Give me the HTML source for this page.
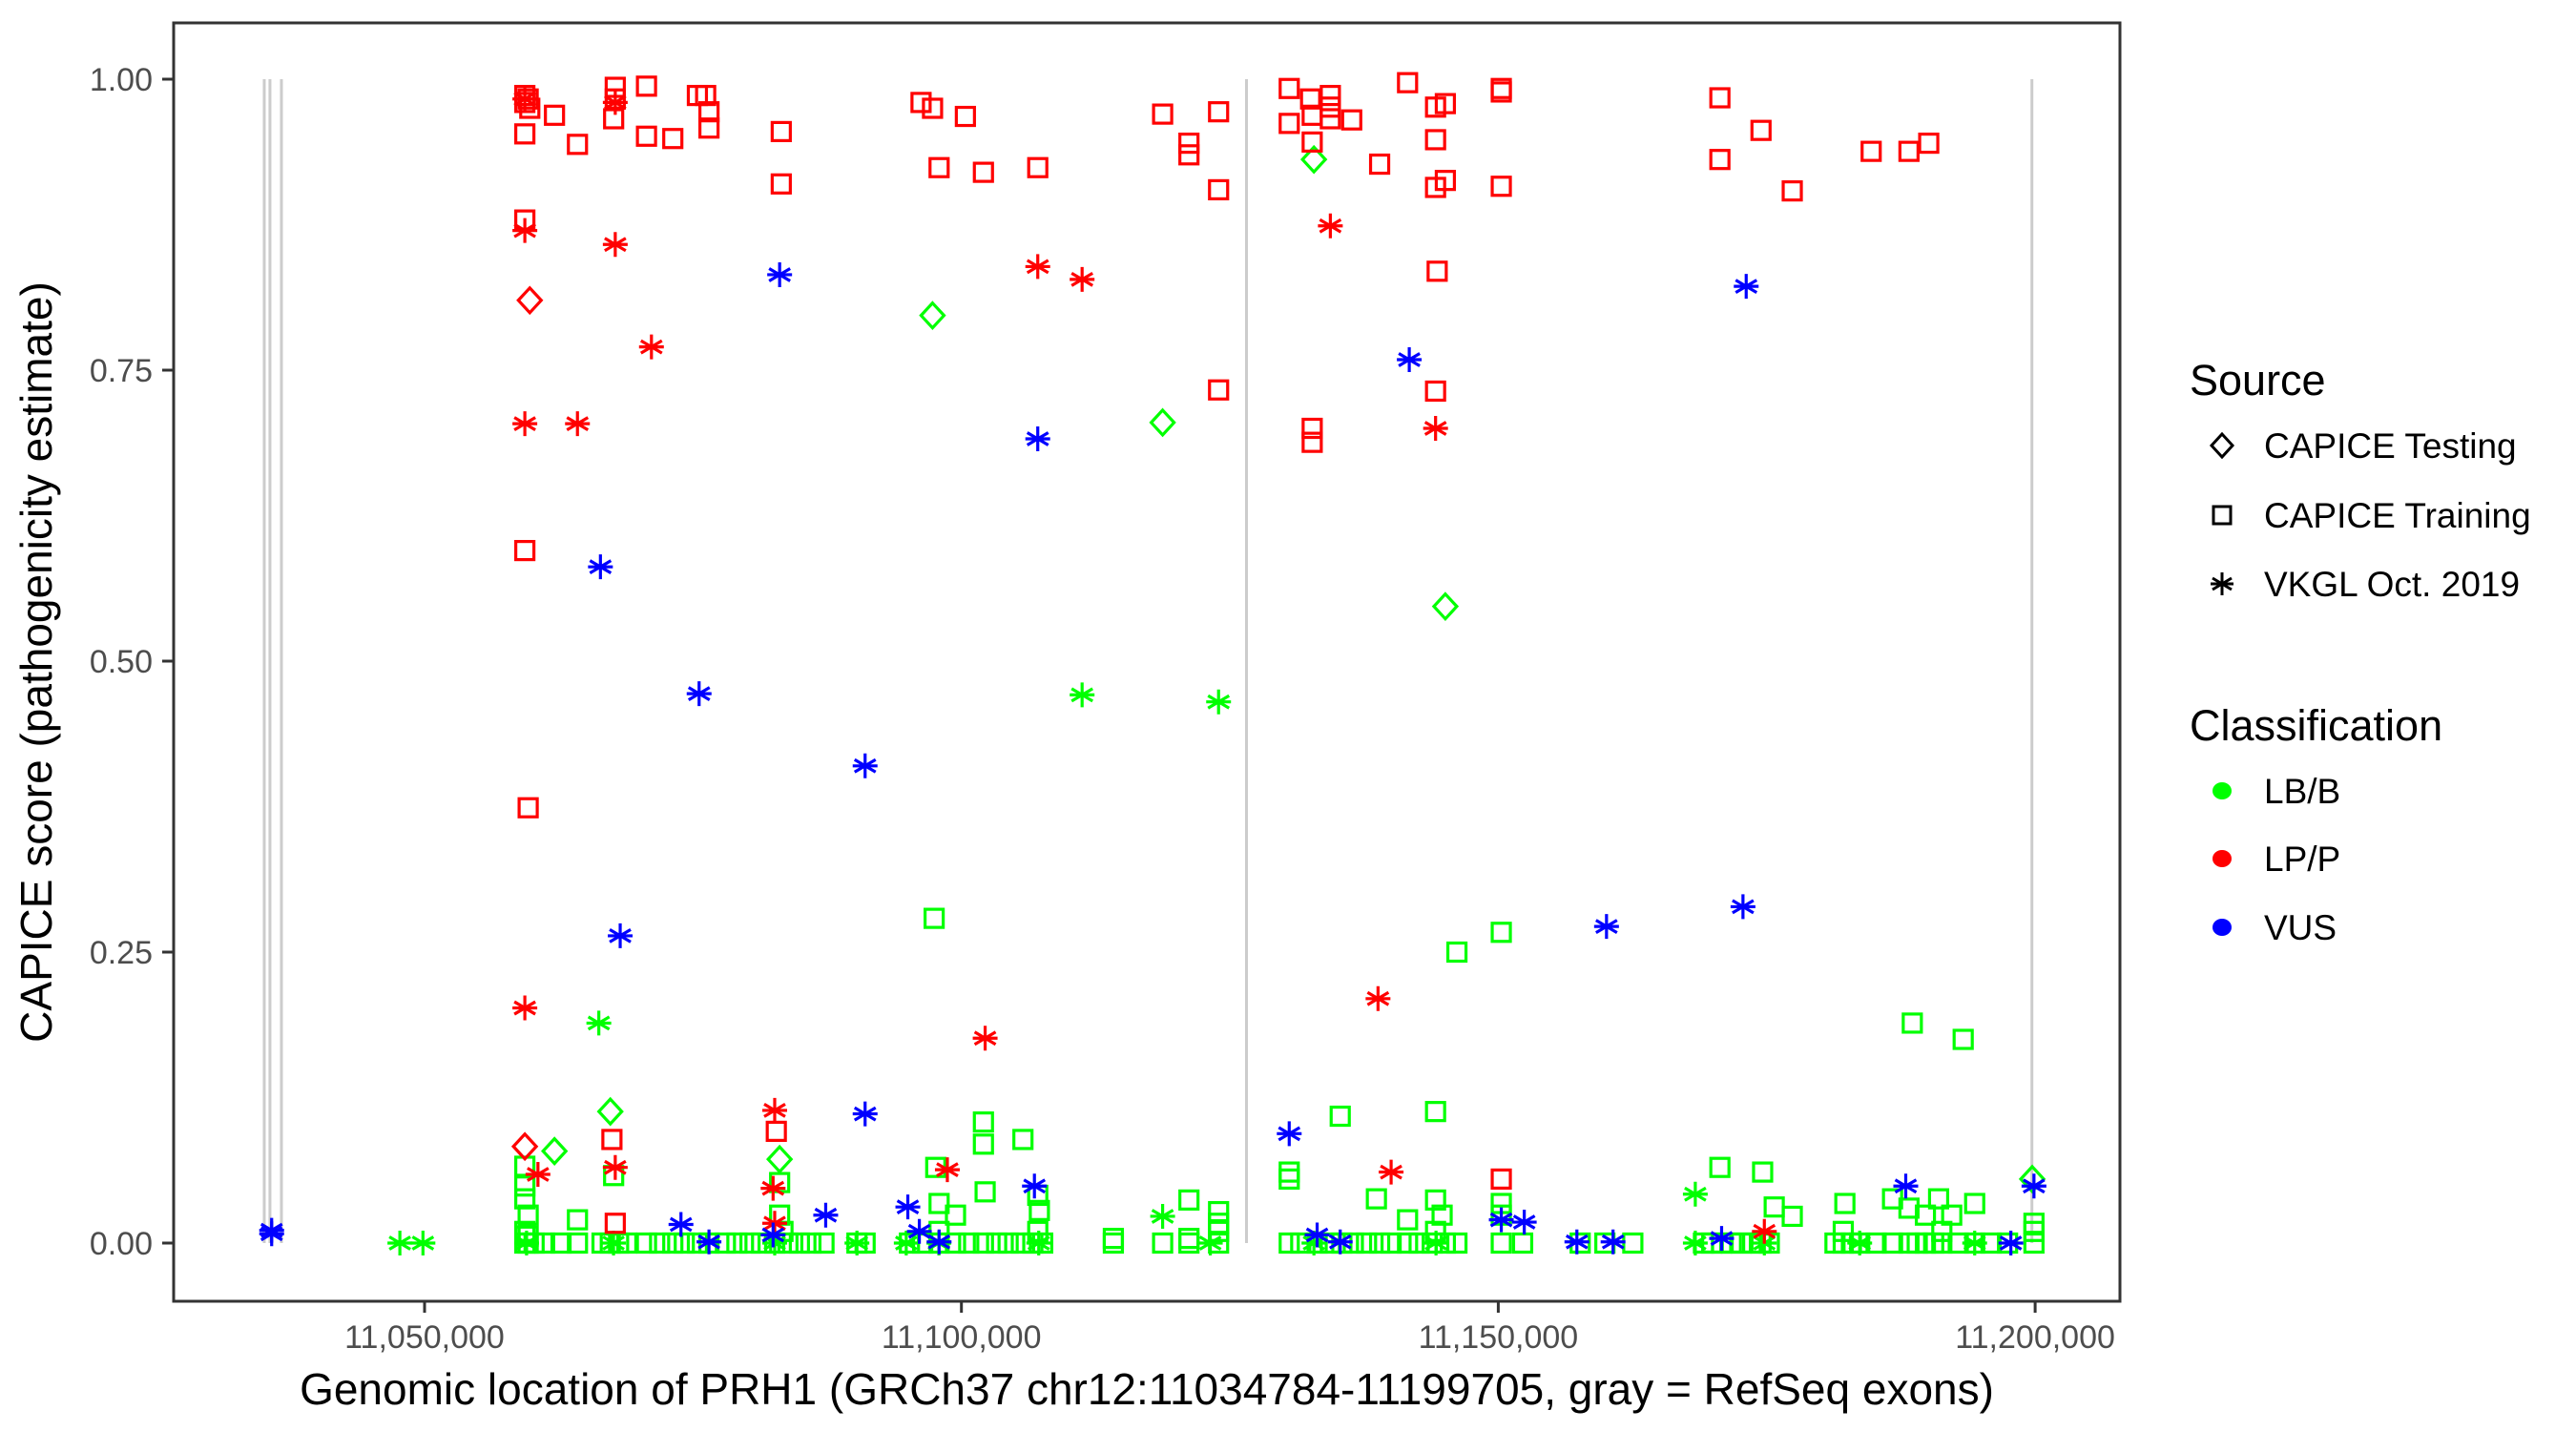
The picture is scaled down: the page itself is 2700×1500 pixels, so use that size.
<!DOCTYPE html>
<html><head><meta charset="utf-8"><style>
html,body{margin:0;padding:0;background:#fff;}
svg{display:block;font-family:"Liberation Sans",Arial,sans-serif;}
</style></head><body>
<svg id="chart" width="2700" height="1500" viewBox="0 0 2700 1500">
<rect x="0" y="0" width="2700" height="1500" fill="#fff"/>
<g id="exons"></g>
<g id="points"></g>
<rect x="182" y="24" width="2040" height="1340" fill="none" stroke="#333" stroke-width="3"/>
<g id="axes"></g>
<text x="1202" y="1472" font-size="46" text-anchor="middle" fill="#000">Genomic location of PRH1 (GRCh37 chr12:11034784-11199705, gray = RefSeq exons)</text>
<text transform="translate(54,694) rotate(-90)" font-size="46" text-anchor="middle" fill="#000">CAPICE score (pathogenicity estimate)</text>
<g id="legend">
 <text x="2295" y="414" font-size="45" fill="#000">Source</text>
 <g>
  <path d="M2329,455 L2340,467 L2329,479 L2318,467 Z" fill="none" stroke="#000" stroke-width="3"/>
  <text x="2373" y="480" font-size="37" fill="#000">CAPICE Testing</text></g>
 <g>
  <rect x="2320" y="531" width="18" height="18" fill="none" stroke="#000" stroke-width="3"/>
  <text x="2373" y="553" font-size="37" fill="#000">CAPICE Training</text></g>
 <g>
  <path d="M2329,600 V624 M2319,606 L2339,618 M2319,618 L2339,606 M2317,612 H2341" stroke="#000" stroke-width="3"/>
  <text x="2373" y="625" font-size="37" fill="#000">VKGL Oct. 2019</text></g>
 <text x="2295" y="776" font-size="45" fill="#000">Classification</text>
 <g><ellipse cx="2329" cy="829" rx="10" ry="9" fill="#00ff00"/><text x="2373" y="842" font-size="37" fill="#000">LB/B</text></g>
 <g><ellipse cx="2329" cy="900" rx="10" ry="9" fill="#ff0000"/><text x="2373" y="913" font-size="37" fill="#000">LP/P</text></g>
 <g><ellipse cx="2329" cy="972" rx="10" ry="9" fill="#0000ff"/><text x="2373" y="985" font-size="37" fill="#000">VUS</text></g>
</g>
</svg>
<script>
// positions in kb (chr12), scores 0..1
const exonPos = [11035.07, 11035.60, 11036.67, 11126.55, 11199.70];
const yTicks = [0, 0.25, 0.5, 0.75, 1.0];
const yTickLabels = ["0.00", "0.25", "0.50", "0.75", "1.00"];
const xTicks = [11050, 11100, 11150, 11200];
const xTickLabels = ["11,050,000", "11,100,000", "11,150,000", "11,200,000"];

const redSquarePos = [11059.34,11059.34,11059.80,11059.65,11059.34,11062.10,11064.24,11067.76,11067.76,11067.61,11070.67,11070.67,11073.12,11075.41,11076.18,11076.49,11076.49,11083.22,11083.22,11096.24,11097.31,11097.92,11100.37,11102.05,11107.11,11118.74,11121.19,11121.19,11123.95,11123.95,11130.53,11130.53,11132.52,11132.67,11132.67,11134.36,11134.36,11134.36,11136.35,11138.95,11141.55,11144.16,11144.16,11144.16,11145.07,11145.07,11150.28,11150.28,11150.28,11170.64,11170.64,11174.47,11177.38,11184.73,11188.25,11190.09,11059.34,11132.67,11132.67,11144.16,11123.95,11059.34,11059.65,11144.31,11067.45,11082.76,11150.28,11067.76];
const redSquareScore = [0.986,0.980,0.975,0.983,0.953,0.969,0.944,0.993,0.983,0.966,0.994,0.951,0.949,0.986,0.986,0.972,0.958,0.955,0.910,0.980,0.975,0.924,0.968,0.920,0.924,0.970,0.945,0.935,0.972,0.905,0.992,0.962,0.983,0.969,0.946,0.986,0.976,0.966,0.965,0.927,0.997,0.976,0.948,0.907,0.979,0.913,0.992,0.989,0.908,0.984,0.931,0.956,0.904,0.938,0.938,0.945,0.879,0.688,0.700,0.732,0.733,0.595,0.374,0.835,0.089,0.096,0.055,0.017];
const redStarPos = [11059.34,11067.76,11059.34,11067.76,11071.13,11059.34,11064.24,11107.11,11111.24,11134.36,11144.16,11059.34,11102.21,11138.80,11082.61,11060.56,11067.76,11082.46,11098.69,11140.02,11174.78,11082.61];
const redStarScore = [0.983,0.980,0.870,0.858,0.770,0.704,0.704,0.839,0.828,0.874,0.700,0.202,0.176,0.210,0.114,0.059,0.065,0.047,0.063,0.061,0.010,0.017];
const redDiamondPos = [11059.80,11059.34];
const redDiamondScore = [0.810,0.083];

const blueStarPos = [11035.76,11035.76,11083.07,11066.38,11075.57,11091.03,11068.22,11107.11,11141.71,11173.09,11160.08,11172.79,11091.03,11130.53,11106.80,11087.36,11095.01,11073.88,11076.49,11096.08,11097.92,11082.46,11133.13,11135.28,11150.28,11152.42,11157.32,11160.69,11170.80,11187.95,11197.74,11199.89];
const blueStarScore = [0.008,0.011,0.832,0.581,0.472,0.410,0.264,0.691,0.759,0.822,0.272,0.289,0.111,0.094,0.049,0.024,0.031,0.016,0.001,0.010,0.001,0.007,0.007,0.001,0.020,0.018,0.001,0.001,0.004,0.049,0.000,0.049];

const greenDiamondPos = [11097.31,11118.74,11145.07,11132.83,11067.30,11062.10,11083.07,11199.73];
const greenDiamondScore = [0.797,0.705,0.547,0.931,0.113,0.079,0.072,0.055];
const greenStarPos = [11047.70,11049.85,11066.23,11111.24,11123.95,11118.74,11168.35,11082.61,11090.27,11094.86,11123.18,11132.83,11168.35,11174.78,11183.66,11194.37,11059.5,11067.6,11097.9,11107.2,11144.2];
const greenStarScore = [0,0,0.189,0.471,0.465,0.023,0.042,0,0,0,0,0,0,0,0,0,0,0,0,0,0];
const greenSquarePos = [11097.46,11146.15,11150.28,11188.56,11193.30,11135.28,11144.16,11102.05,11102.05,11105.73,11097.61,11102.21,11121.19,11123.95,11130.53,11130.53,11138.65,11141.55,11144.16,11144.77,11170.64,11174.62,11177.38,11175.70,11182.28,11186.72,11191.01,11188.25,11194.37,11059.34,11059.34,11059.34,11059.65,11064.24,11067.61,11083.07,11083.07,11097.92,11099.45,11107.11,11107.26,11123.95,11150.28,11150.28,11189.78,11192.23,
11059.34,11059.65,11060.2,11061.18,11062.71,11064.24,11066.53,11067.30,11068.07,11068.83,11070.67,11071.89,11073.12,11074.19,11075.41,11076.49,11078.02,11079.09,11080.31,11081.39,11082.61,11083.84,11084.91,11085.98,11087.20,11090.27,11091.03,11095.16,11096.39,11097.92,11099.45,11100.68,11102.05,11103.28,11104.35,11105.58,11106.65,11107.57,11114.15,11118.74,11121.19,11123.95,11130.53,11131.60,11133.13,11134.36,11135.43,11136.50,11137.73,11138.95,11140.02,11141.55,11142.63,11143.85,11145.07,11146.15,11150.28,11152.27,11157.63,11159.93,11162.53,11169.11,11169.88,11170.80,11171.71,11172.63,11173.70,11174.47,11175.24,11181.36,11182.13,11182.89,11183.66,11185.19,11186.72,11188.25,11189.02,11189.78,11190.55,11191.31,11192.84,11194.37,11195.90,11197.43,11199.89,
11059.34,11083.38,11097.92,11107.11,11123.95,11144.16,11182.13,11191.31,11199.89,11199.89,11059.34,11059.65,11114.15,11121.19];
const greenSquareScore = [0.279,0.250,0.267,0.189,0.175,0.109,0.113,0.104,0.085,0.089,0.065,0.044,0.037,0.027,0.061,0.055,0.038,0.020,0.037,0.024,0.065,0.061,0.023,0.031,0.034,0.038,0.038,0.030,0.034,0.066,0.049,0.038,0.024,0.020,0.058,0.052,0.024,0.034,0.024,0.041,0.028,0.017,0.034,0.024,0.024,0.024,
0,0,0,0,0,0,0,0,0,0,0,0,0,0,0,0,0,0,0,0,0,0,0,0,0,0,0,0,0,0,0,0,0,0,0,0,0,0,0,0,0,0,0,0,0,0,0,0,0,0,0,0,0,0,0,0,0,0,0,0,0,0,0,0,0,0,0,0,0,0,0,0,0,0,0,0,0,0,0,0,0,0,0,0,0,
0.010,0.010,0.010,0.010,0.010,0.010,0.010,0.010,0.010,0.017,0.006,0.006,0.004,0.004];

const NS = "http://www.w3.org/2000/svg";
function xScale(kb){ return 445 + (kb - 11050) / 50 * 562.7; }
function yScale(v){ return 1303 - v * 1220; }
function mk(tag, attrs, parent){
  const e = document.createElementNS(NS, tag);
  for (const k in attrs) e.setAttribute(k, attrs[k]);
  parent.appendChild(e); return e;
}
const exG = document.getElementById('exons');
exonPos.forEach(function(p){
  const l = mk('line', {x1:xScale(p), x2:xScale(p), y1:yScale(1), y2:yScale(0), stroke:'#cccccc', 'stroke-width':3}, exG);
  
  
});
const axG = document.getElementById('axes');
yTicks.forEach(function(v, i){
  const y = yScale(v);
  const t = mk('line', {x1:170, x2:182, y1:y, y2:y, stroke:'#333', 'stroke-width':3}, axG);
  
  
  const lb = mk('text', {x:160, y:y+12, 'font-size':34, 'text-anchor':'end', fill:'#4d4d4d'}, axG);
  lb.textContent = yTickLabels[i];
  
  
});
xTicks.forEach(function(v, i){
  const x = xScale(v);
  const t = mk('line', {x1:x, x2:x, y1:1364, y2:1376, stroke:'#333', 'stroke-width':3}, axG);
  
  
  const lb = mk('text', {x:x, y:1413, 'font-size':34, 'text-anchor':'middle', fill:'#4d4d4d'}, axG);
  lb.textContent = xTickLabels[i];
  
  
});
const pG = document.getElementById('points');
function drawSeries(pos, score, shape, color, name){
  pos.forEach(function(p, i){
    const x = xScale(p), y = yScale(score[i]);
    let e;
    if (shape === 'square') {
      e = mk('rect', {x:x-9.5, y:y-9.5, width:19, height:19, fill:'none', stroke:color, 'stroke-width':3.2}, pG);
    } else if (shape === 'diamond') {
      e = mk('path', {d:'M'+x+','+(y-13)+' L'+(x+12)+','+y+' L'+x+','+(y+13)+' L'+(x-12)+','+y+' Z', fill:'none', stroke:color, 'stroke-width':3.2}, pG);
    } else {
      e = mk('path', {d:'M'+x+','+(y-13)+' V'+(y+13)+' M'+(x-11)+','+(y-6.5)+' L'+(x+11)+','+(y+6.5)+' M'+(x-11)+','+(y+6.5)+' L'+(x+11)+','+(y-6.5)+' M'+(x-13)+','+y+' H'+(x+13), stroke:color, 'stroke-width':3.2, fill:'none'}, pG);
    }
    
    
  });
}
drawSeries(greenSquarePos, greenSquareScore, 'square', '#00ff00', 'point-lbb-training');
drawSeries(greenStarPos, greenStarScore, 'star', '#00ff00', 'point-lbb-vkgl');
drawSeries(greenDiamondPos, greenDiamondScore, 'diamond', '#00ff00', 'point-lbb-testing');
drawSeries(redSquarePos, redSquareScore, 'square', '#ff0000', 'point-lpp-training');
drawSeries(redStarPos, redStarScore, 'star', '#ff0000', 'point-lpp-vkgl');
drawSeries(redDiamondPos, redDiamondScore, 'diamond', '#ff0000', 'point-lpp-testing');
drawSeries(blueStarPos, blueStarScore, 'star', '#0000ff', 'point-vus-vkgl');
</script>
</body></html>
